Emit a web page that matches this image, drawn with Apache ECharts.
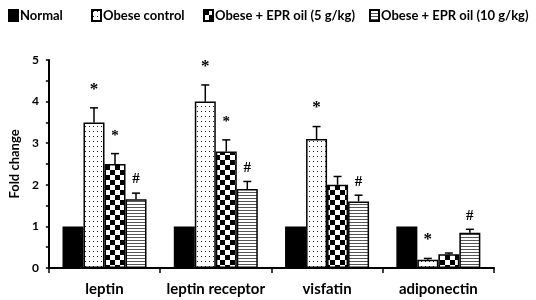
<!DOCTYPE html>
<html>
<head>
<meta charset="utf-8">
<script src="https://cdn.jsdelivr.net/npm/echarts@6/dist/echarts.min.js"></script>
<style>
	html, body { margin: 0; padding: 0; background: #fff; }
	#chart { width: 536px; height: 300px; }
</style>
</head>
<body>
<div id="chart"></div>
<script>
var categories = ['leptin', 'leptin receptor', 'visfatin', 'adiponectin'];
var seriesNames = ['Normal', 'Obese control', 'Obese + EPR oil (5 g/kg)', 'Obese + EPR oil (10 g/kg)'];

var normalValues = [1, 1, 1, 1];
var obeseValues = [3.5, 4.0, 3.1, 0.2];
var epr5Values = [2.5, 2.8, 2.0, 0.33];
var epr10Values = [1.65, 1.9, 1.6, 0.85];

var normalErrors = [0, 0, 0, 0];
var obeseErrors = [0.35, 0.4, 0.3, 0.03];
var epr5Errors = [0.25, 0.28, 0.2, 0.03];
var epr10Errors = [0.15, 0.18, 0.15, 0.08];

var obeseMarks = ['*', '*', '*', '*'];
var epr5Marks = ['*', '*', '', ''];
var epr10Marks = ['#', '#', '#', '#'];

var yTicks = [0, 1, 2, 3, 4, 5];

var allValues = [normalValues, obeseValues, epr5Values, epr10Values];
var allErrors = [normalErrors, obeseErrors, epr5Errors, epr10Errors];
var allMarks = [['', '', '', ''], obeseMarks, epr5Marks, epr10Marks];

var barW = 21;
var legendLeft = [3, 86, 198, 364];

function makePattern(kind) {
	var c = document.createElement('canvas');
	var ctx = c.getContext('2d');
	if (kind === 'dots') {
		c.width = 4; c.height = 5;
		ctx.fillStyle = '#fff';
		ctx.fillRect(0, 0, 4, 5);
		ctx.fillStyle = '#222';
		ctx.fillRect(1, 1, 1, 1);
	} else if (kind === 'check') {
		c.width = 10; c.height = 10;
		ctx.fillStyle = '#fff';
		ctx.fillRect(0, 0, 10, 10);
		ctx.fillStyle = '#000';
		ctx.fillRect(0, 0, 5, 5);
		ctx.fillRect(5, 5, 5, 5);
	} else {
		c.width = 4; c.height = 3;
		ctx.fillStyle = '#fff';
		ctx.fillRect(0, 0, 4, 3);
		ctx.fillStyle = '#555';
		ctx.fillRect(0, 0, 4, 1);
	}
	return { image: c, repeat: 'repeat' };
}

var fills = ['#000', makePattern('dots'), makePattern('check'), makePattern('lines')];

var barSeries = seriesNames.map(function (name, i) {
	return {
		name: name,
		type: 'bar',
		barWidth: barW,
		barGap: '0%',
		data: allValues[i],
		itemStyle: {
			color: fills[i],
			borderColor: '#000',
			borderWidth: 1.5
		},
		z: 2
	};
});

var legends = seriesNames.map(function (name, i) {
	return {
		data: [name],
		top: 4,
		left: legendLeft[i],
		icon: 'rect',
		itemWidth: 9,
		itemHeight: 11,
		textStyle: {
			fontFamily: 'Lato',
			fontWeight: 'bold',
			fontSize: 13,
			color: '#000',
			padding: [0, 0, 0, -3]
		}
	};
});

var errData = [];
for (var s = 0; s < 4; s++) {
	for (var k = 0; k < categories.length; k++) {
		errData.push([k, allValues[s][k], allErrors[s][k], s, allMarks[s][k]]);
	}
}

var errSeries = {
	type: 'custom',
	data: errData,
	z: 3,
	silent: true,
	renderItem: function (params, api) {
		var k = api.value(0);
		var v = api.value(1);
		var e = api.value(2);
		var s = api.value(3);
		var mark = errData[params.dataIndex][4];
		var off = (s - 1.5) * barW;
		var base = api.coord([k, v]);
		var top = api.coord([k, v + e]);
		var x = base[0] + off;
		var children = [];
		if (e > 0) {
			children.push({
				type: 'line',
				shape: { x1: x, y1: base[1], x2: x, y2: top[1] },
				style: { stroke: '#000', lineWidth: 1.5 }
			});
			children.push({
				type: 'line',
				shape: { x1: x - 4, y1: top[1], x2: x + 4, y2: top[1] },
				style: { stroke: '#000', lineWidth: 1.5 }
			});
		}
		if (mark) {
			var big = (mark === '*' && s === 1);
			children.push({
				type: 'text',
				style: {
					x: x,
					y: top[1] - (mark === '#' ? 6 : 10),
					text: mark,
					fill: '#000',
					align: 'center',
					verticalAlign: 'bottom',
					font: (big ? 'bold 17px' : 'bold 15px') + ' "Liberation Serif"'
				}
			});
		}
		return { type: 'group', children: children };
	}
};

var chart = echarts.init(document.getElementById('chart'));
chart.setOption({
	animation: false,
	backgroundColor: '#fff',
	legend: legends,
	grid: {
		left: 40,
		right: 42,
		top: 60,
		bottom: 32
	},
	xAxis: {
		type: 'category',
		data: categories,
		axisLine: { lineStyle: { color: '#000', width: 2 } },
		axisTick: { show: true, length: 5, lineStyle: { color: '#000', width: 1.5 } },
		axisLabel: {
			interval: 0,
			margin: 14,
			fontFamily: 'Lato',
			fontWeight: 'bold',
			fontSize: 15,
			color: '#000'
		}
	},
	yAxis: {
		type: 'value',
		min: yTicks[0],
		max: yTicks[yTicks.length - 1],
		interval: 1,
		name: 'Fold change',
		nameLocation: 'middle',
		nameGap: 27,
		nameTextStyle: {
			fontFamily: 'Lato',
			fontWeight: 'bold',
			fontSize: 13,
			color: '#000'
		},
		axisLine: { show: true, lineStyle: { color: '#000', width: 2 } },
		axisTick: { show: true, length: 3, lineStyle: { color: '#000', width: 1.5 } },
		minorTick: { show: true, splitNumber: 2, length: 3, lineStyle: { color: '#000', width: 1.5 } },
		splitLine: { show: false },
		axisLabel: {
			margin: 10,
			fontFamily: 'Lato',
			fontWeight: 'bold',
			fontSize: 12,
			color: '#000'
		}
	},
	series: barSeries.concat([errSeries])
});
</script>
</body>
</html>
